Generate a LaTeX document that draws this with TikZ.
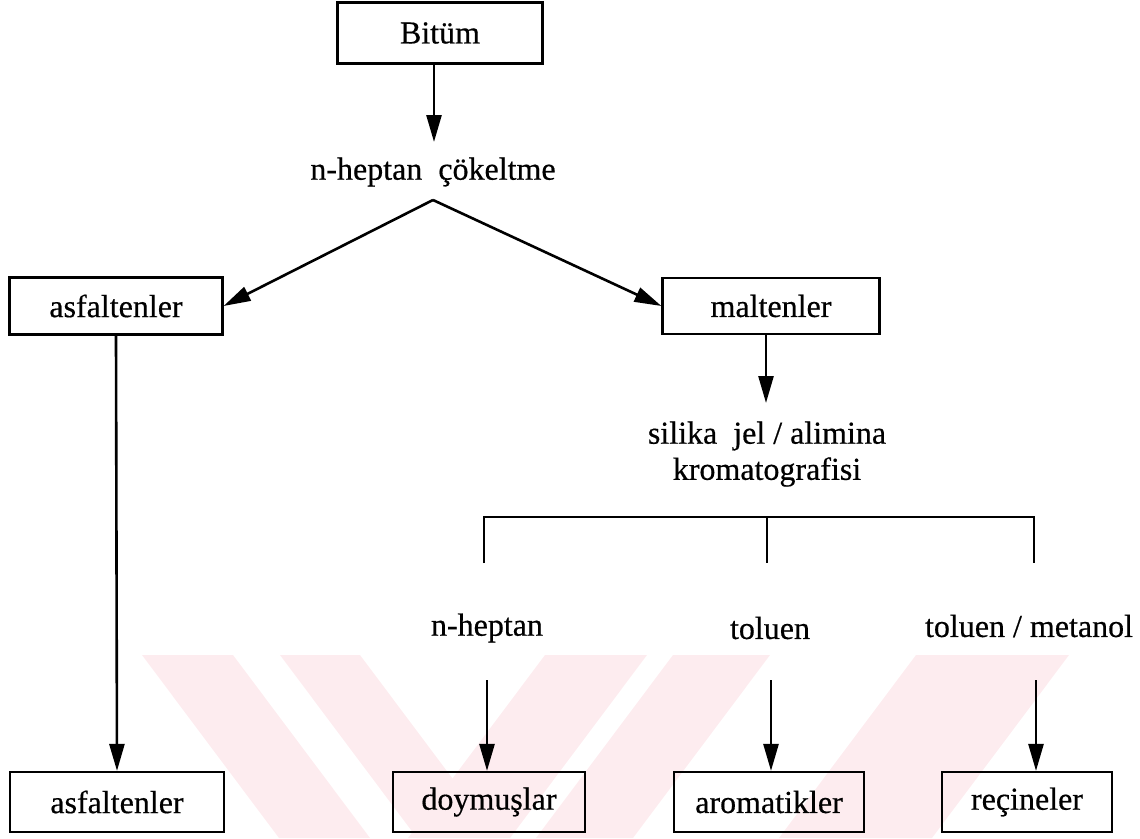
\documentclass[tikz,border=0pt]{standalone}
\usepackage{fontspec}
\setmainfont{Liberation Serif}[FakeBold=0.5]
\usetikzlibrary{arrows.meta}
\definecolor{wm}{RGB}{253,236,239}
\tikzset{
  box/.style={draw=black, line width=2.2pt, rectangle, inner sep=0pt, font=\fontsize{32}{36}\selectfont},
  lbl/.style={inner sep=0pt, font=\fontsize{32}{36}\selectfont, align=center},
  ln/.style={line width=2.6pt, line cap=butt},
  arr/.style={ln, -{Triangle[length=27pt,width=15pt]}},
}
\begin{document}
\begin{tikzpicture}[x=1pt,y=-1pt]
\useasboundingbox (0,0) rectangle (1140,838);
% watermark
\fill[wm] (142,655) -- (233,655) -- (370,838) -- (279,838) -- cycle;
\fill[wm] (280,655) -- (360,655) -- (497,838) -- (417,838) -- cycle;
\fill[wm] (545,655) -- (647,655) -- (510,838) -- (408,838) -- cycle;
\fill[wm] (673,655) -- (770,655) -- (633,838) -- (536,838) -- cycle;
\fill[wm] (916,655) -- (1069,655) -- (932,838) -- (779,838) -- cycle;
% nodes
\node[box, minimum width=205pt, minimum height=61pt] (bitum) at (440,33) {Bitüm};
\node[lbl] (hep) at (433,172) {n-heptan\ \ çökeltme};
\coordinate (apex) at (433,200);
\node[box, minimum width=213pt, minimum height=57pt] (asf1) at (116,306) {asfaltenler};
\node[box, minimum width=217pt, minimum height=56pt] (mal) at (771,306) {maltenler};
\node[lbl] (sil) at (767,436) {silika\ \ jel / alimina};
\node[lbl] (kro) at (767,472) {kromatografisi};
\node[lbl] (h2) at (487,628) {n-heptan};
\node[lbl] (tol) at (770,628) {toluen};
\node[lbl] (tm) at (1029,626) {toluen / metanol};
\node[box, minimum width=214pt, minimum height=60pt] (asf2) at (117,802) {asfaltenler};
\node[box, minimum width=192pt, minimum height=60pt] (doy) at (489,802) {doymuşlar};
\node[box, minimum width=190pt, minimum height=60pt] (aro) at (769,802) {aromatikler};
\node[box, minimum width=170pt, minimum height=60pt] (rec) at (1027,802) {reçineler};
% coordinates
\coordinate (b1) at (434,142);
\coordinate (m1) at (766,403);
\coordinate (bl) at (484,563);
\coordinate (bm) at (767,563);
\coordinate (br) at (1034,563);
\coordinate (c1) at (487,680);
\coordinate (c2) at (771,680);
\coordinate (c3) at (1036,680);
% connectors
\draw[arr] (bitum.south -| b1) -- (b1);
\draw[arr] (apex) -- (asf1.east);
\draw[arr] (apex) -- (mal.west);
\draw[arr] (mal.south -| m1) -- (m1);
\draw[arr] (asf1.south) -- (asf2.north);
\draw[ln] (bl) -- (484,517) -- (1034,517) -- (br);
\draw[ln] (767,517) -- (bm);
\draw[arr] (c1) -- (doy.north -| c1);
\draw[arr] (c2) -- (aro.north -| c2);
\draw[arr] (c3) -- (rec.north -| c3);
\end{tikzpicture}
\end{document}
